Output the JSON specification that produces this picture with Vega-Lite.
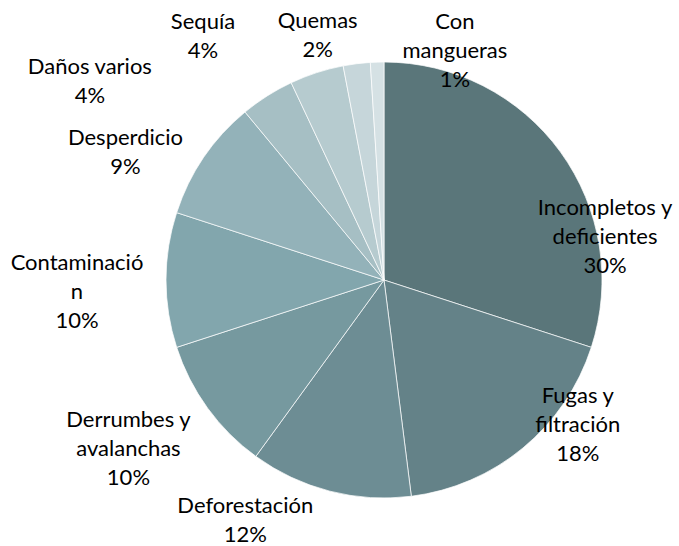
{
  "$schema": "https://vega.github.io/schema/vega-lite/v6.json",
  "width": 436,
  "height": 436,
  "autosize": {"type": "none"},
  "padding": {"left": 166, "top": 62, "right": 77, "bottom": 48},
  "background": "white",
  "view": {"stroke": null},
  "data": {
    "values": [
      {"orden": 1, "nombre": "Incompletos y\ndeficientes", "valor": 30},
      {"orden": 2, "nombre": "Fugas y\nfiltración", "valor": 18},
      {"orden": 3, "nombre": "Deforestación", "valor": 12},
      {"orden": 4, "nombre": "Derrumbes y\navalanchas", "valor": 10},
      {"orden": 5, "nombre": "Contaminació\nn", "valor": 10},
      {"orden": 6, "nombre": "Desperdicio", "valor": 9},
      {"orden": 7, "nombre": "Daños varios", "valor": 4},
      {"orden": 8, "nombre": "Sequía", "valor": 4},
      {"orden": 9, "nombre": "Quemas", "valor": 2},
      {"orden": 10, "nombre": "Con\nmangueras", "valor": 1}
    ]
  },
  "transform": [
    {"stack": "valor", "groupby": [], "sort": [{"field": "orden", "order": "ascending"}], "as": ["v0", "v1"]},
    {"calculate": "(datum.v0 + datum.v1) / 2", "as": "mid"},
    {"calculate": "datum.nombre + '\\n' + datum.valor + '%'", "as": "etiqueta"}
  ],
  "layer": [
    {
      "mark": {"type": "arc", "stroke": "white", "strokeWidth": 0.7},
      "encoding": {
        "theta": {"field": "v0", "type": "quantitative", "scale": {"domain": [0, 100], "range": [0, 6.283185307]}},
        "theta2": {"field": "v1"},
        "color": {
          "field": "orden",
          "type": "ordinal",
          "scale": {
            "domain": [1, 2, 3, 4, 5, 6, 7, 8, 9, 10],
            "range": ["#5a767a", "#648288", "#6d8d94", "#76999f", "#82a6ad", "#93b2b9", "#a6bfc4", "#b6cbcf", "#c6d6da", "#d5e1e4"]
          },
          "legend": null
        }
      }
    },
    {"transform": [{"filter": "datum.orden == 1"}], "mark": {"type": "text", "radius": 204, "dx": 56, "dy": 48, "font": "Lato", "fontSize": 22, "lineHeight": 29, "lineBreak": "\n", "align": "center", "baseline": "middle", "color": "black"}, "encoding": {"theta": {"field": "mid", "type": "quantitative"}, "text": {"field": "etiqueta"}}},
    {"transform": [{"filter": "datum.orden == 2"}], "mark": {"type": "text", "radius": 235, "dx": 44, "dy": -65, "font": "Lato", "fontSize": 22, "lineHeight": 29, "lineBreak": "\n", "align": "center", "baseline": "middle", "color": "black"}, "encoding": {"theta": {"field": "mid", "type": "quantitative"}, "text": {"field": "etiqueta"}}},
    {"transform": [{"filter": "datum.orden == 3"}], "mark": {"type": "text", "radius": 268, "dx": -72, "dy": -33.5, "font": "Lato", "fontSize": 22, "lineHeight": 29, "lineBreak": "\n", "align": "center", "baseline": "middle", "color": "black"}, "encoding": {"theta": {"field": "mid", "type": "quantitative"}, "text": {"field": "etiqueta"}}},
    {"transform": [{"filter": "datum.orden == 4"}], "mark": {"type": "text", "radius": 306, "dx": -8, "dy": -40, "font": "Lato", "fontSize": 22, "lineHeight": 29, "lineBreak": "\n", "align": "center", "baseline": "middle", "color": "black"}, "encoding": {"theta": {"field": "mid", "type": "quantitative"}, "text": {"field": "etiqueta"}}},
    {"transform": [{"filter": "datum.orden == 5"}], "mark": {"type": "text", "radius": 307, "dx": 0, "dy": -17, "font": "Lato", "fontSize": 22, "lineHeight": 29, "lineBreak": "\n", "align": "center", "baseline": "middle", "color": "black"}, "encoding": {"theta": {"field": "mid", "type": "quantitative"}, "text": {"field": "etiqueta"}}},
    {"transform": [{"filter": "datum.orden == 6"}], "mark": {"type": "text", "radius": 286, "dx": -22, "dy": 18.5, "font": "Lato", "fontSize": 22, "lineHeight": 29, "lineBreak": "\n", "align": "center", "baseline": "middle", "color": "black"}, "encoding": {"theta": {"field": "mid", "type": "quantitative"}, "text": {"field": "etiqueta"}}},
    {"transform": [{"filter": "datum.orden == 7"}], "mark": {"type": "text", "radius": 325, "dx": -120, "dy": 61.5, "font": "Lato", "fontSize": 22, "lineHeight": 29, "lineBreak": "\n", "align": "center", "baseline": "middle", "color": "black"}, "encoding": {"theta": {"field": "mid", "type": "quantitative"}, "text": {"field": "etiqueta"}}},
    {"transform": [{"filter": "datum.orden == 8"}], "mark": {"type": "text", "radius": 288, "dx": -92, "dy": 15.5, "font": "Lato", "fontSize": 22, "lineHeight": 29, "lineBreak": "\n", "align": "center", "baseline": "middle", "color": "black"}, "encoding": {"theta": {"field": "mid", "type": "quantitative"}, "text": {"field": "etiqueta"}}},
    {"transform": [{"filter": "datum.orden == 9"}], "mark": {"type": "text", "radius": 250, "dx": -35, "dy": -10.5, "font": "Lato", "fontSize": 22, "lineHeight": 29, "lineBreak": "\n", "align": "center", "baseline": "middle", "color": "black"}, "encoding": {"theta": {"field": "mid", "type": "quantitative"}, "text": {"field": "etiqueta"}}},
    {"transform": [{"filter": "datum.orden == 10"}], "mark": {"type": "text", "radius": 227, "dx": 78, "dy": -31, "font": "Lato", "fontSize": 22, "lineHeight": 29, "lineBreak": "\n", "align": "center", "baseline": "middle", "color": "black"}, "encoding": {"theta": {"field": "mid", "type": "quantitative"}, "text": {"field": "etiqueta"}}}
  ]
}
